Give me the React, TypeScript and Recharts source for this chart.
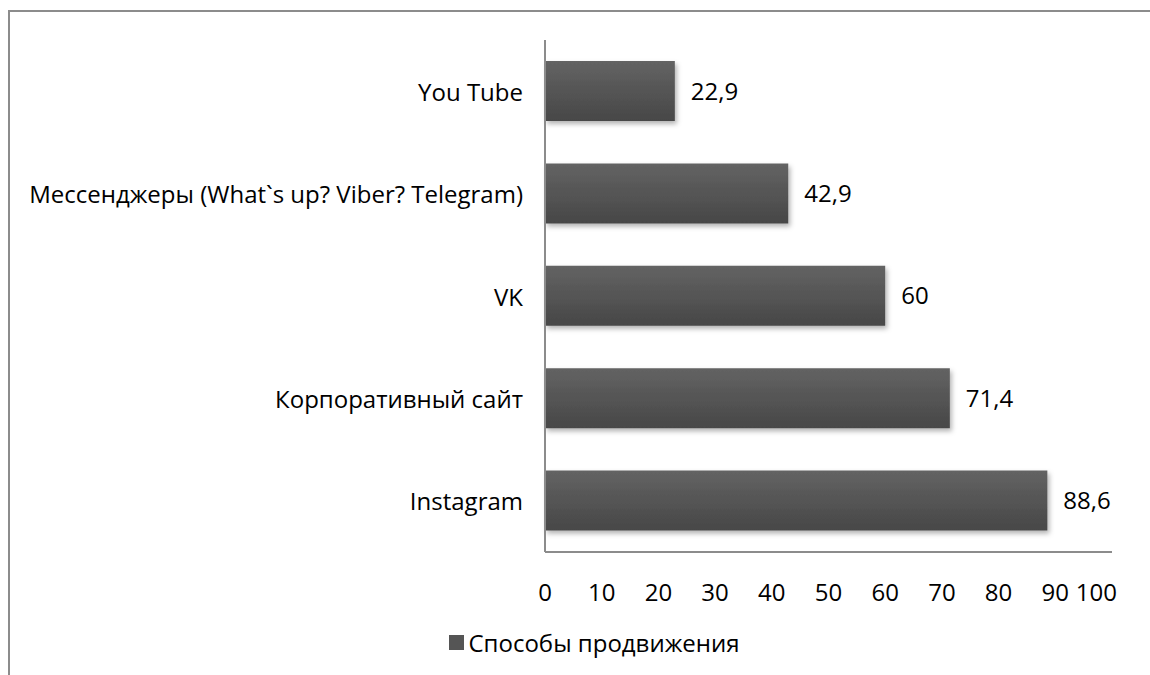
import { BarChart, Bar, XAxis, YAxis, LabelList, Legend } from 'recharts';

const categories = ['You Tube', 'Мессенджеры (What`s up? Viber? Telegram)', 'VK', 'Корпоративный сайт', 'Instagram'];
const values = [22.9, 42.9, 60, 71.4, 88.6];
const xTicks = [0, 10, 20, 30, 40, 50, 60, 70, 80, 90, 100];
const seriesName = 'Способы продвижения';

const data = categories.map((name, i) => ({ name, value: values[i] }));

const FONT = '"Open Sans", Lato, sans-serif';
const FS = 24;

const fmt = (v: number) => String(v).replace('.', ',');

const XTick = (props: any) => {
  const { x, y, payload } = props;
  const last = payload.value === xTicks[xTicks.length - 1];
  return (
    <text x={last ? x + 5 : x} y={y} dy={21} textAnchor={last ? 'end' : 'middle'} fill="#000" fontSize={FS} fontFamily={FONT}>
      {payload.value}
    </text>
  );
};

const YTick = (props: any) => {
  const { x, y, payload } = props;
  return (
    <text x={x} y={y} textAnchor="end" dominantBaseline="central" fill="#000" fontSize={FS} fontFamily={FONT}>
      {payload.value}
    </text>
  );
};

const LegendBox = () => (
  <div style={{ display: 'flex', alignItems: 'center', justifyContent: 'center', fontFamily: FONT, fontSize: FS, color: '#000', paddingTop: 14, paddingLeft: 76 }}>
    <span style={{ display: 'inline-block', width: 15, height: 15, background: '#555', marginRight: 5 }} />
    {seriesName}
  </div>
);

export default function App() {
  return (
    <div style={{ position: 'absolute', left: 0, top: 0, width: 1150, height: 675, background: '#fff', overflow: 'hidden' }}>
      <div style={{ position: 'absolute', left: 8, top: 10, width: 1200, height: 700, border: '2px solid #8c8c8c', borderRight: 'none', borderBottom: 'none' }} />
      <BarChart
        width={1150}
        height={675}
        data={data}
        layout="vertical"
        margin={{ top: 40, right: 38, left: 0, bottom: 20 }}
        barSize={60}
        style={{ position: 'absolute', left: 0, top: 0 }}
      >
        <defs>
          <linearGradient id="barFill" x1="0" y1="0" x2="0" y2="1">
            <stop offset="0%" stopColor="#636363" />
            <stop offset="100%" stopColor="#474747" />
          </linearGradient>
          <filter id="barShadow" x="-5%" y="-20%" width="115%" height="150%">
            <feDropShadow dx="2" dy="3" stdDeviation="2.5" floodColor="#000" floodOpacity="0.3" />
          </filter>
        </defs>
        <XAxis
          type="number"
          domain={[0, 100]}
          ticks={xTicks}
          interval={0}
          axisLine={{ stroke: '#8c8c8c', strokeWidth: 2 }}
          tickLine={false}
          tick={<XTick />}
          tickMargin={22}
          height={60}
        />
        <YAxis
          type="category"
          dataKey="name"
          width={545}
          axisLine={{ stroke: '#8c8c8c', strokeWidth: 2 }}
          tickLine={false}
          tick={<YTick />}
          tickMargin={16}
          interval={0}
        />
        <Legend verticalAlign="bottom" height={43} content={<LegendBox />} />
        <Bar dataKey="value" name={seriesName} fill="url(#barFill)" filter="url(#barShadow)" isAnimationActive={false}>
          <LabelList
            dataKey="value"
            position="right"
            offset={16}
            formatter={(v: any) => fmt(v)}
            style={{ fill: '#000', fontSize: FS, fontFamily: FONT }}
          />
        </Bar>
      </BarChart>
    </div>
  );
}
